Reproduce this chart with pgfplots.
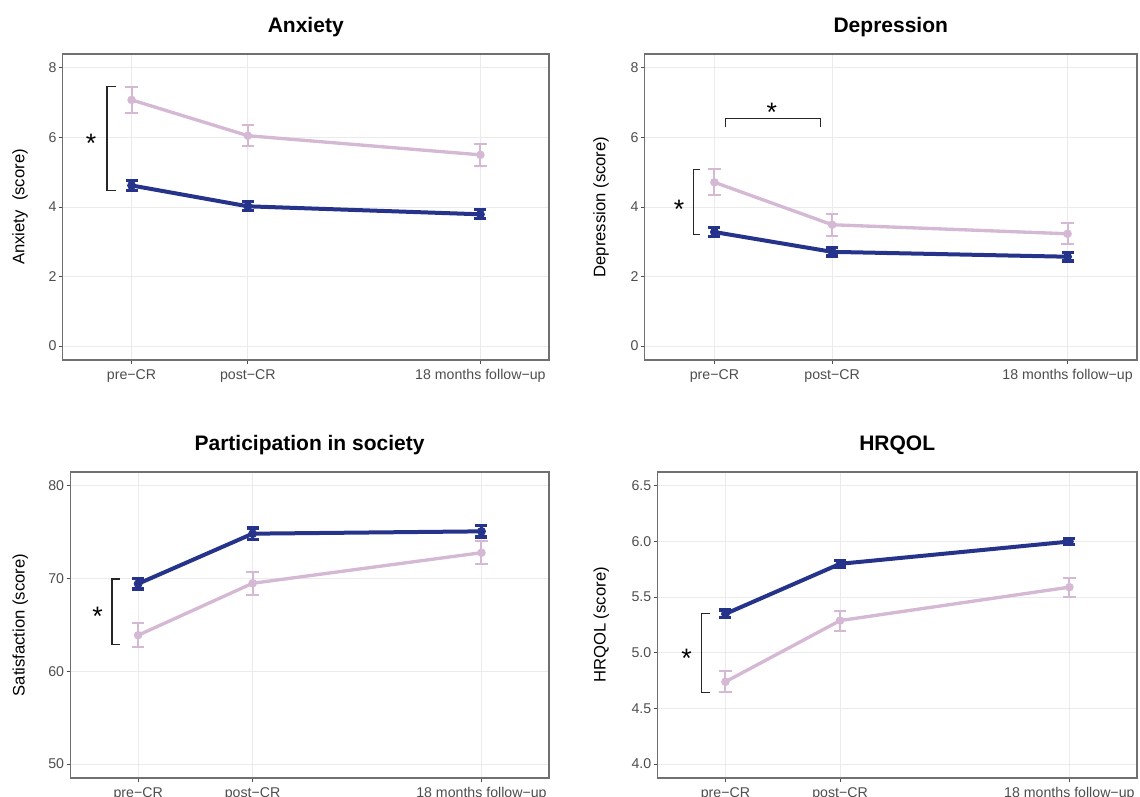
\documentclass[border=0pt]{standalone}
\usepackage{fontspec}
\setmainfont{Liberation Sans}
\usepackage{pgfplots}
\pgfplotsset{compat=1.18}
\definecolor{cblue}{HTML}{25338A}
\definecolor{cpink}{HTML}{D4B8D4}
\definecolor{gridc}{HTML}{EBEBEB}
\definecolor{framec}{HTML}{707070}
\definecolor{tickc}{HTML}{4D4D4D}
\tikzset{
  brk/.style={black!85, line width=0.7pt},
  star/.style={anchor=north, font=\fontsize{16}{16}\selectfont, inner sep=0pt, yshift=2.3pt},
}
\pgfplotsset{
  panel/.style={
    scale only axis,
    anchor=south west,
    height=183.6pt,
    xmin=-0.594, xmax=3.59,
    xtick={0,1,3},
    xticklabels={pre−CR, post−CR, 18 months follow−up},
    grid=major,
    major grid style={gridc, line width=0.6pt},
    axis line style={framec, line width=0.7pt},
    tick align=outside,
    major tick length=2.1pt,
    tick style={tickc, line width=0.6pt},
    tick pos=left,
    ticklabel style={font=\fontsize{8.5}{10}\selectfont, text=tickc},
    yticklabel style={xshift=2pt},
    /pgf/number format/assume math mode=true,
    title style={font=\fontsize{12.6}{14}\selectfont\bfseries, at={(0.5,1)}, anchor=base, yshift=7.2pt},
    ylabel style={font=\fontsize{10}{12}\selectfont, anchor=center},
  },
  pinkplot/.style={cpink, line width=2pt, mark=*, mark size=2.3pt,
    mark options={fill=cpink, draw=cpink, line width=0.5pt},
    error bars/.cd, y dir=both, y explicit,
    error bar style={line width=1.2pt, cpink},
    error mark options={rotate=90, cpink, line width=1.2pt, mark size=3.8pt}},
  blueplot/.style={cblue, line width=2.4pt, mark=*, mark size=2.4pt,
    mark options={fill=cblue, draw=cblue, line width=0.5pt},
    error bars/.cd, y dir=both, y explicit,
    error bar style={line width=2.2pt, cblue},
    error mark options={rotate=90, cblue, line width=2pt, mark size=3.6pt}},
}
\begin{document}
\begin{tikzpicture}
\useasboundingbox (0,0) rectangle (684pt,477.6pt);
% Anxiety
\begin{axis}[panel, at={(37.5pt,261.6pt)}, width=291.9pt,
  ymin=-0.4, ymax=8.4, ytick={0,2,4,6,8},
  title={Anxiety},
  ylabel={Anxiety\ \ (score)},
  ylabel style={at={(axis description cs:-0.087,0.5)}}]
\addplot[pinkplot] coordinates {(0,7.08) +- (0,0.38) (1,6.05) +- (0,0.30) (3,5.50) +- (0,0.31)};
\addplot[blueplot] coordinates {(0,4.62) +- (0,0.14) (1,4.02) +- (0,0.13) (3,3.79) +- (0,0.13)};
\draw[brk] (axis cs:-0.137,7.46) -- (axis cs:-0.211,7.46) -- (axis cs:-0.211,4.48) -- (axis cs:-0.137,4.48);
\node[star] at (axis cs:-0.349,6.0) {*};
\end{axis}
% Depression
\begin{axis}[panel, at={(386.7pt,261.6pt)}, width=295.5pt,
  ymin=-0.4, ymax=8.4, ytick={0,2,4,6,8},
  title={Depression},
  ylabel={Depression (score)},
  ylabel style={at={(axis description cs:-0.088,0.5)}}]
\addplot[pinkplot] coordinates {(0,4.71) +- (0,0.37) (1,3.49) +- (0,0.31) (3,3.23) +- (0,0.30)};
\addplot[blueplot] coordinates {(0,3.28) +- (0,0.13) (1,2.71) +- (0,0.12) (3,2.57) +- (0,0.12)};
\draw[brk] (axis cs:-0.122,5.07) -- (axis cs:-0.178,5.07) -- (axis cs:-0.178,3.20) -- (axis cs:-0.122,3.20);
\node[star] at (axis cs:-0.30,4.1) {*};
\draw[brk] (axis cs:0.092,6.29) -- (axis cs:0.092,6.555) -- (axis cs:0.903,6.555) -- (axis cs:0.903,6.29);
\node[star] at (axis cs:0.488,6.89) {*};
\end{axis}
% Participation
\begin{axis}[panel, at={(42.1pt,10.8pt)}, width=287.3pt,
  ymin=48.5, ymax=81.5, ytick={50,60,70,80},
  title={Participation in society},
  ylabel={Satisfaction (score)},
  ylabel style={at={(axis description cs:-0.104,0.5)}}]
\addplot[pinkplot] coordinates {(0,63.9) +- (0,1.3) (1,69.5) +- (0,1.25) (3,72.8) +- (0,1.25)};
\addplot[blueplot] coordinates {(0,69.45) +- (0,0.55) (1,74.85) +- (0,0.6) (3,75.1) +- (0,0.6)};
\draw[brk] (axis cs:-0.158,69.96) -- (axis cs:-0.228,69.96) -- (axis cs:-0.228,62.9) -- (axis cs:-0.158,62.9);
\node[star] at (axis cs:-0.355,66.6) {*};
\end{axis}
% HRQOL
\begin{axis}[panel, at={(394.4pt,10.8pt)}, width=287.8pt,
  ymin=3.875, ymax=6.625, ytick={4.0,4.5,5.0,5.5,6.0,6.5},
  yticklabel style={/pgf/number format/.cd, fixed, fixed zerofill, precision=1},
  title={HRQOL},
  ylabel={HRQOL (score)},
  ylabel style={at={(axis description cs:-0.117,0.5)}}]
\addplot[pinkplot] coordinates {(0,4.74) +- (0,0.095) (1,5.29) +- (0,0.09) (3,5.59) +- (0,0.085)};
\addplot[blueplot] coordinates {(0,5.35) +- (0,0.035) (1,5.80) +- (0,0.03) (3,6.00) +- (0,0.025)};
\draw[brk] (axis cs:-0.135,5.35) -- (axis cs:-0.208,5.35) -- (axis cs:-0.208,4.64) -- (axis cs:-0.135,4.64);
\node[star] at (axis cs:-0.34,5.0) {*};
\end{axis}
\end{tikzpicture}
\end{document}
